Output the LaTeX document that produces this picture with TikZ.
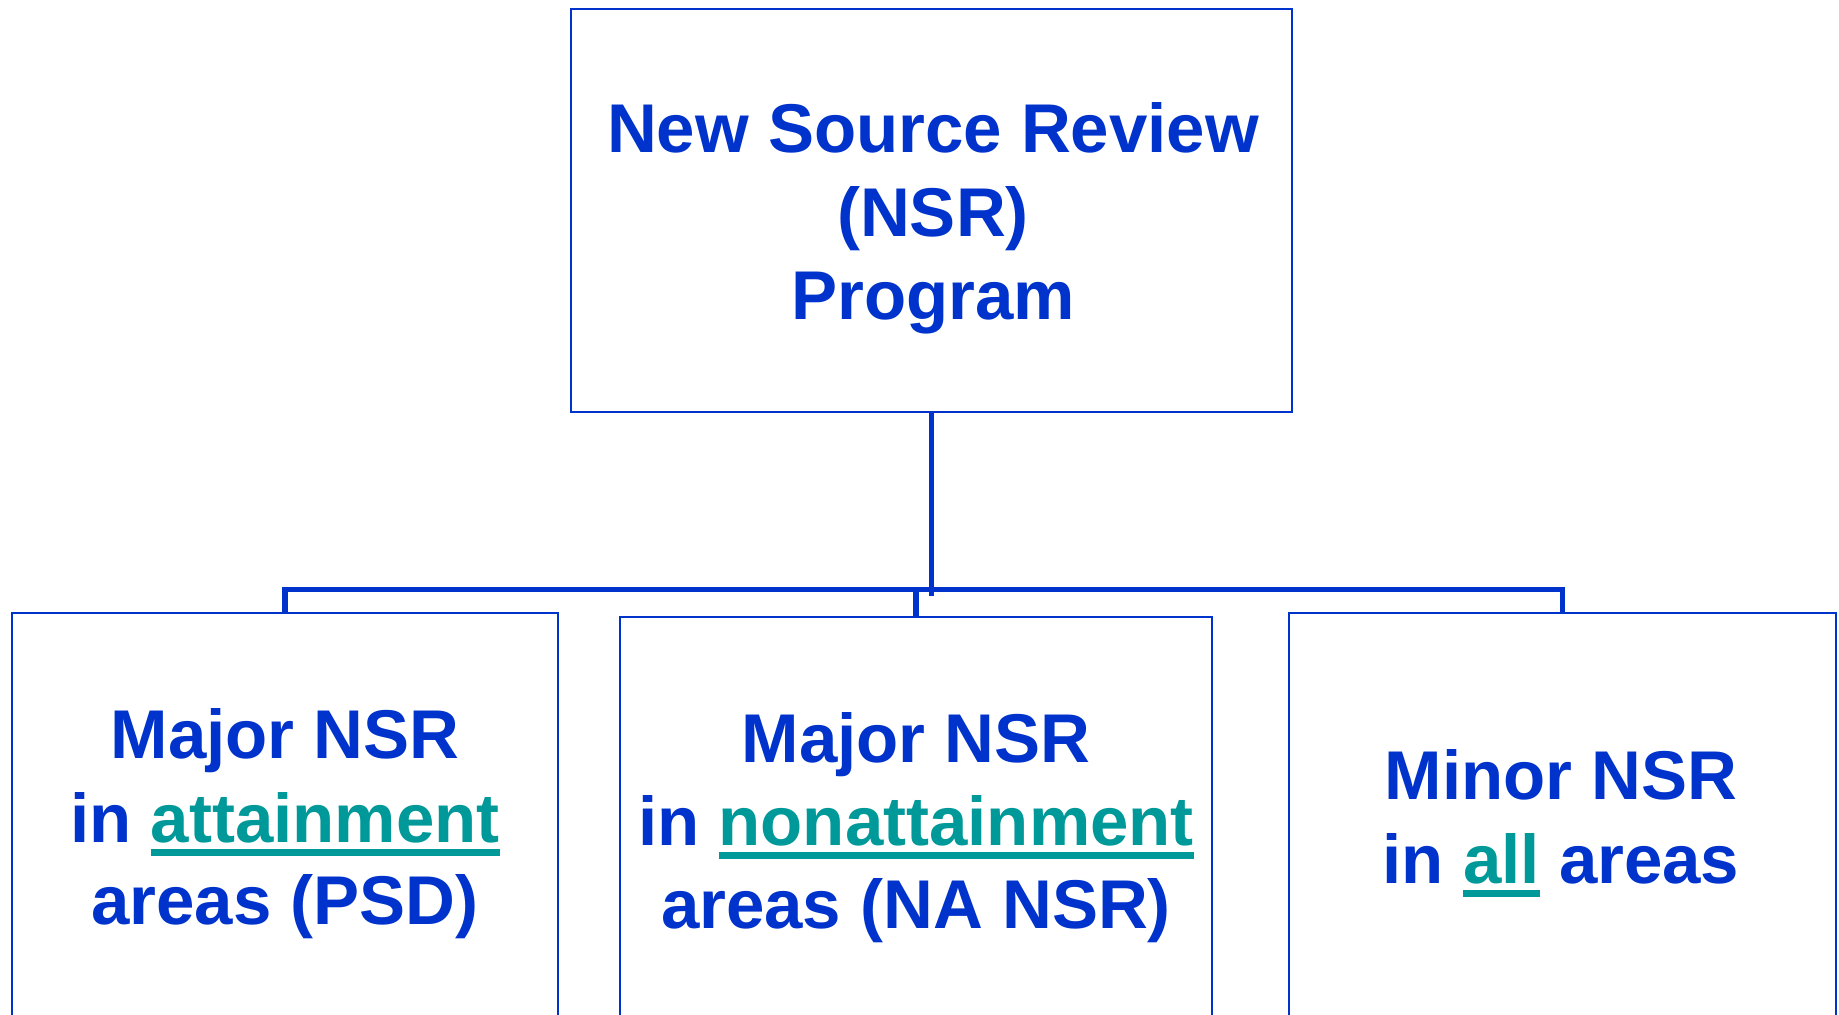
\documentclass[tikz,border=0pt]{standalone}
\usepackage{fontspec}
\setmainfont{Liberation Sans}
\definecolor{nsrblue}{RGB}{0,51,204}
\definecolor{nsrteal}{RGB}{0,153,153}
\newcommand{\tealul}[1]{{\color{nsrteal}\setbox0=\hbox{#1}\rlap{\rule[-7.1pt]{\wd0}{3.8pt}}\box0}}
\begin{document}
\begin{tikzpicture}[x=0.5pt,y=-0.5pt,
  box/.style={draw=nsrblue,line width=1pt,inner sep=0pt},
  txt/.style={anchor=base,inner sep=0pt,font=\bfseries\fontsize{34.5}{42}\selectfont,text=nsrblue},
  link/.style={draw=nsrblue,line width=2.75pt}]
\useasboundingbox (0,0) rectangle (1839,1015);
\fill[white] (0,0) rectangle (1839,1015);
\begin{scope}
\clip (0,0) rectangle (1839,1015);
% boxes
\node[box,minimum width=360.5pt,minimum height=201.5pt] (top) at (931.5,210.5) {};
\node[box,minimum width=273pt,minimum height=223.5pt] (left) at (285,836.5) {};
\node[box,minimum width=296pt,minimum height=221.5pt] (mid) at (916,838.5) {};
\node[box,minimum width=273.5pt,minimum height=223.5pt] (right) at (1562.5,836.5) {};
% connectors
\coordinate (bar) at (931.5,589.5);
\coordinate (hub) at (931.5,596);
\draw[link] (top.south) -- (hub);
\draw[link] (left.north) -- (left.north |- bar) -- (right.north |- bar) -- (right.north);
\draw[link] (mid.north) -- (mid.north |- bar);
% texts
\node[txt] (t1) at (933,153) {New Source Review};
\node[txt] (t2) at (933,237) {(NSR)};
\node[txt] (t3) at (933,320) {Program};
\node[txt] (l1) at (285,758) {Major NSR};
\node[txt] (l2) at (285,842) {in \tealul{attainment}};
\node[txt] (l3) at (285,924) {areas (PSD)};
\node[txt] (m1) at (916,762) {Major NSR};
\node[txt] (m2) at (916,845) {in \tealul{nonattainment}};
\node[txt] (m3) at (916,928) {areas (NA NSR)};
\node[txt] (r1) at (1561,799) {Minor NSR};
\node[txt] (r2) at (1561,883) {in \tealul{all} areas};
\end{scope}
\end{tikzpicture}
\end{document}
